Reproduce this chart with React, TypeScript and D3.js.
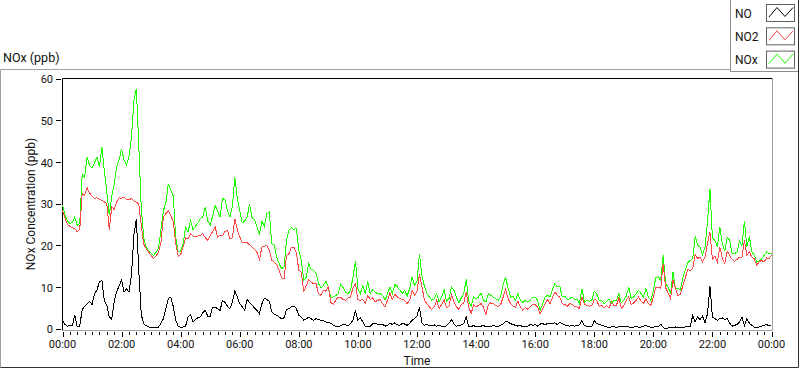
import React from "react";
import * as d3 from "d3";

// one reading every 5 minutes, 00:00 -> 24:00
const STEP_MIN = 5;

const seriesNames = ["NO", "NO2", "NOx"];
const seriesColors = ["#000000", "#ff4848", "#1eff00"];

const noValues = [
  2.2, 1.2, 0.8, 1, 0.9, 3.5, 0.6, 0.8, 4.8, 5.6, 6.2, 6.8,
  6, 8.5, 9.5, 11.4, 11.8, 6.8, 5.8, 3, 2.5, 6.8, 9, 10.5,
  11.8, 9, 9.8, 9, 13, 22.6, 26.6, 14, 3.5, 1.4, 0.9, 0.6,
  0.5, 0.4, 0.5, 0.6, 1.5, 2.6, 5, 7.5, 7.8, 5.5, 2.2, 0.8,
  0.5, 0.6, 0.8, 3, 3.6, 1.8, 2.4, 2.8, 3, 4, 4.6, 3.2,
  3.2, 5.4, 5.4, 5, 4.6, 7, 6.5, 5.6, 5, 6.5, 9.3, 7.8,
  6.2, 5.5, 4.6, 7.2, 6.5, 5.8, 5.2, 4.6, 3.8, 6.2, 7.5, 7.2,
  6.8, 4.2, 3.6, 3.4, 3, 2.6, 2.8, 4.8, 5, 5.5, 5.6, 5,
  3.4, 3, 2.2, 2.6, 2.9, 2.6, 2.2, 2.6, 2.4, 2.2, 2.1, 1.8,
  1.8, 1.5, 1, 0.8, 0.6, 1, 1.2, 1.1, 0.9, 1.4, 2.2, 4.6,
  2.2, 2.8, 1.8, 0.8, 0.7, 0.8, 1.4, 1.5, 1.2, 1.1, 1.3, 0.8,
  1, 1.5, 1.2, 1.6, 1.1, 1, 1.5, 1.3, 1, 1.5, 2.2, 2.6,
  3.2, 5.4, 1.6, 1, 1.2, 0.9, 1, 1.1, 0.8, 1, 0.8, 0.6,
  0.9, 1.5, 2.4, 1.4, 0.8, 1, 1.1, 1.4, 3, 0.8, 0.6, 1,
  0.6, 0.7, 0.8, 1, 0.6, 0.8, 0.7, 1, 0.8, 0.7, 1, 1.4,
  2, 1.8, 1.4, 1.2, 1, 0.8, 1, 0.6, 0.7, 0.8, 1.2, 1,
  1.2, 0.8, 1.3, 1.4, 1.2, 1.4, 1.4, 1.5, 1.6, 1.2, 1.8, 1.4,
  1.1, 1, 0.8, 1, 0.8, 1, 1.1, 2.1, 1, 0.8, 0.7, 0.6,
  2.2, 1.4, 1.2, 1, 0.8, 0.6, 0.5, 0.6, 0.7, 0.5, 0.7, 0.6,
  0.8, 0.8, 0.6, 0.5, 0.6, 0.8, 0.5, 0.6, 0.8, 1, 0.7, 0.5,
  0.5, 0.8, 0.7, 1.3, 0.5, 0.2, 0.4, 0.5, 0.4, 0.6, 0.5, 0.6,
  0.5, 0.6, 0.7, 0.8, 3.4, 1.8, 3, 2.4, 3.2, 1.5, 3.8, 10.4,
  3, 2.6, 2.2, 2.6, 2.8, 2.4, 2.6, 1.5, 0.8, 1, 1.2, 1.8,
  3, 1, 2.6, 1.5, 1, 0.6, 0.5, 0.6, 0.8, 1, 1.2, 0.9,
  0.8,
];

const no2Values = [
  28.6, 26.8, 25.2, 24.8, 24.4, 24.2, 23.4, 24, 32.6, 32.2, 34, 32.8,
  32, 31.5, 31.6, 31.2, 31, 30.6, 30.2, 24, 29.4, 28.8, 30.6, 31.6,
  31.5, 31.8, 31.2, 31.2, 31.4, 30.8, 30.6, 30, 25, 20.5, 19.4, 18.6,
  17.8, 17, 17.6, 18.6, 21, 27, 27.8, 28.4, 27.4, 25.8, 20.6, 17.6,
  18, 19.8, 22, 21.8, 23, 22.4, 22.2, 22.4, 22.6, 23, 22, 21.4,
  22.6, 23.5, 24.6, 22.2, 22.6, 22.5, 23.5, 23.8, 21.8, 22, 26.6, 24,
  22.2, 20.8, 21, 20.8, 20.3, 19.8, 19.2, 18.5, 16.8, 19.8, 20, 20.2,
  19, 16.6, 16.2, 15.6, 14.2, 12.4, 12.2, 17.8, 18.2, 19.8, 19.8, 18.4,
  14.2, 13.8, 9, 10.5, 12, 11.4, 11, 11, 8.6, 8.2, 9.4, 9.2,
  10.2, 6.5, 6, 7, 7.8, 7.8, 7.2, 7, 7.6, 7.8, 10, 11,
  7.2, 7, 7.2, 6.4, 8.2, 7.2, 7.6, 6.6, 7, 7.2, 6.2, 5.4,
  7, 8.8, 7.2, 8.4, 7.8, 7.4, 7.2, 7, 6.2, 7, 9.4, 8.2,
  9.2, 13.2, 10.4, 7, 6.2, 5.4, 4.8, 5.4, 7, 5, 6, 7.2,
  5.2, 5.6, 8.4, 6.6, 5.4, 4.8, 6, 6.4, 9, 5.4, 3.8, 6,
  5.4, 5.8, 6.2, 5.4, 3.6, 6, 6.4, 6.2, 5.8, 5.4, 6, 7.8,
  9.6, 7.4, 6.2, 5.6, 5.4, 6.8, 5.4, 4.6, 5.2, 4.9, 5.4, 6,
  6, 5.4, 3.8, 5, 6.2, 7.2, 6.2, 7.6, 9, 8.2, 7.8, 6.2,
  6, 5.6, 6.2, 6, 5.6, 5.4, 5, 7.8, 6, 5.8, 5.6, 5.7,
  7.2, 7, 5.6, 5.8, 5.2, 5.8, 5.2, 6.6, 5.8, 5.8, 7.6, 5,
  5.8, 7, 7.8, 6, 6.4, 7, 7.8, 6.8, 6.2, 7.4, 6.2, 5.8,
  7.8, 10.2, 10.2, 9.8, 15.8, 10, 8.8, 7.4, 11.8, 9.8, 8.2, 8.4,
  10.6, 12.4, 14.4, 14.2, 14.6, 18, 17, 17.4, 16.2, 17.4, 20.6, 23.4,
  16.8, 17.6, 16.2, 19.8, 17.2, 15.8, 18.8, 17.8, 16.8, 16.4, 16.8, 17.4,
  17.4, 21.4, 17.8, 18.6, 17.4, 17, 15.4, 16.2, 16.6, 16.2, 17.2, 17,
  17.8,
];

const noxValues = [
  29.8, 27.5, 26, 25.5, 25.6, 27, 25, 25.5, 37.2, 36.5, 41.4, 39.4,
  38.8, 40, 41.4, 39, 43.8, 38, 33, 27.5, 31.8, 35, 39, 40.8,
  43.4, 40.6, 39.5, 41.5, 46, 55, 57.8, 44, 29, 22, 19.8, 18.8,
  18.4, 17.8, 18.5, 19.5, 24, 28.6, 30.5, 35, 33.4, 32, 22, 18.6,
  18.8, 20.5, 24.6, 23.5, 26, 24, 24.8, 25.5, 26.6, 27, 29.4, 26,
  25, 27.2, 29.8, 28.4, 27, 31.4, 31.2, 28.5, 27, 29.5, 36.5, 31.5,
  28.6, 25.6, 26, 27, 30, 26.8, 26.5, 24.6, 22.8, 26, 24.8, 27.8,
  28.2, 20.6, 20.2, 17.4, 15.8, 14.6, 15, 21.4, 23.8, 24.5, 24, 24.2,
  19, 16.6, 11.8, 12.5, 15.8, 14.4, 14.2, 13.6, 11, 10, 10.6, 11.6,
  10.2, 7.5, 7.8, 8.2, 8.5, 10.8, 10, 9, 8.5, 9.4, 12.5, 16.5,
  9.8, 8.6, 10.6, 8.6, 11.5, 8.6, 9.6, 9, 8.6, 8.6, 8.2, 7,
  8.6, 10.2, 8.6, 10.8, 10.2, 9.6, 8.6, 9.4, 8, 9.8, 12.6, 10.6,
  11.6, 18, 13, 10.4, 8.6, 7.8, 7, 7.4, 8.6, 6.6, 7.8, 9.6,
  6.8, 7.4, 10.2, 9.4, 7.8, 6.4, 7.6, 8.6, 12, 6.8, 5.6, 7.8,
  7.4, 7.8, 8.8, 7, 6.6, 8.6, 8.2, 7.8, 7.4, 7, 7.8, 10.8,
  12.4, 10, 7.8, 8, 7, 8.6, 7, 6.5, 7, 6.6, 7, 7.8,
  7.8, 7, 4.6, 6, 7.8, 8.2, 7.8, 9.6, 11, 10.2, 10.4, 7.8,
  8, 7.2, 7.4, 7.8, 7.2, 7.2, 6.2, 9.8, 6.6, 7, 6.8, 7,
  9.2, 8.6, 7, 7, 6.2, 6.8, 7.2, 6.2, 7, 7, 8.6, 6.4,
  7, 8, 10.2, 7.5, 7.8, 8.6, 9.4, 8.6, 7.8, 9.8, 7.8, 7,
  9.4, 12.5, 12.6, 11.8, 17.8, 11, 10.2, 8.6, 13.8, 9.6, 10, 9.4,
  12.4, 14.2, 16, 16.6, 17, 22.4, 20.2, 19.8, 18, 19.8, 25.8, 33.8,
  22, 21.4, 19.8, 24.6, 20.6, 18.8, 22, 21.5, 18.2, 18.2, 18.6, 21.2,
  20.2, 26, 19.8, 22.4, 18.6, 17.8, 16.2, 16.3, 17, 17.8, 18.6, 18.2,
  18.2,
];

const yTicks = [0, 10, 20, 30, 40, 50, 60];

const font = "Roboto, 'Noto Sans', sans-serif";

export default function App() {
  const day0 = new Date(2000, 0, 1, 0, 0);
  const day1 = new Date(2000, 0, 2, 0, 0);

  const x = d3.scaleTime().domain([day0, day1]).range([62.5, 771.5]);
  const y = d3.scaleLinear().domain([0, 60]).range([329.5, 79.5]);

  const timeAt = (i: number) => new Date(day0.getTime() + i * STEP_MIN * 60000);
  const line = d3
    .line<number>()
    .x((_, i) => x(timeAt(i)))
    .y((d) => y(d));

  const majorTicks = x.ticks(d3.timeHour.every(2));
  const minorTicks = x.ticks(d3.timeMinute.every(15));
  const fmt = d3.timeFormat("%H:%M");

  // drawn back to front: NOx under NO2 under NO
  const series = [
    { name: "NOx", values: noxValues, color: seriesColors[2] },
    { name: "NO2", values: no2Values, color: seriesColors[1] },
    { name: "NO", values: noValues, color: seriesColors[0] },
  ];

  return (
    <svg
      width={800}
      height={369}
      style={{ position: "absolute", left: 0, top: 0, display: "block", background: "#fff" }}
      fontFamily={font}
    >
      {/* outer panel frame */}
      <path d="M0.5,367.5 V69.5 H730.5" fill="none" stroke="#a0a0a0" />
      <path d="M0.5,367.5 H798.5 V72" fill="none" stroke="#303030" />

      <text x={3} y={62} fontSize={12.5} fill="#111">NOx (ppb)</text>

      {/* legend */}
      <rect x={730.5} y={-0.5} width={68} height={72} fill="#fff" stroke="#909090" />
      <path d="M798.5,0 V72" stroke="#303030" />
      {seriesNames.map((name, i) => {
        const top = 4 + i * 23.3;
        return (
          <g key={name}>
            <text x={735} y={top + 13.5} fontSize={12} fill="#111">{name}</text>
            <rect x={766.5} y={top + 0.5} width={28} height={17} fill="#fff" stroke="#606060" />
            <polyline
              points={`769,${top + 13} 777,${top + 3.5} 785,${top + 12.5} 793,${top + 3.5}`}
              fill="none"
              stroke={seriesColors[i]}
              strokeWidth={1}
            />
          </g>
        );
      })}

      {/* plot area border */}
      <path d="M62.5,330.5 V78.5 H772.5" fill="none" stroke="#000" />
      <path d="M62.5,330.5 H772.5 V78.5" fill="none" stroke="#a0a0a0" />

      {/* data */}
      <g shapeRendering="crispEdges">
        {series.map((s) => (
          <path key={s.name} d={line(s.values) ?? ""} fill="none" stroke={s.color} strokeWidth={1} />
        ))}
      </g>

      {/* y axis */}
      {yTicks.map((v) => (
        <g key={v}>
          <line x1={56} x2={61} y1={Math.round(y(v)) - 0.5} y2={Math.round(y(v)) - 0.5} stroke="#000" />
          <text x={53} y={y(v)} dy="0.35em" textAnchor="end" fontSize={11} fill="#111">{v}</text>
        </g>
      ))}
      <text
        transform={`translate(35,${(79 + 329) / 2}) rotate(-90)`}
        textAnchor="middle"
        fontSize={12}
        fill="#111"
      >
        NOx Concentration (ppb)
      </text>

      {/* x axis */}
      {minorTicks.map((d, i) => (
        <line key={"m" + i} x1={Math.round(x(d)) + 0.5} x2={Math.round(x(d)) + 0.5} y1={332} y2={335} stroke="#000" />
      ))}
      {majorTicks.map((d, i) => (
        <g key={"M" + i}>
          <line x1={Math.round(x(d)) + 0.5} x2={Math.round(x(d)) + 0.5} y1={332} y2={337} stroke="#000" />
          <text x={x(d)} y={348} textAnchor="middle" fontSize={11} fill="#111">{fmt(d)}</text>
        </g>
      ))}
      <text x={417} y={365} textAnchor="middle" fontSize={12} fill="#111">Time</text>
    </svg>
  );
}
